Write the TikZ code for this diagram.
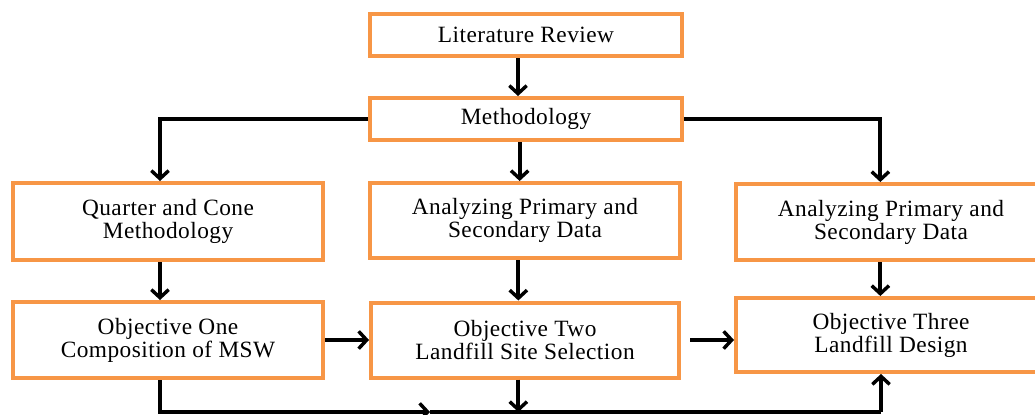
\documentclass[tikz,border=0pt]{standalone}
\usepackage{fontspec}
\setmainfont{Liberation Serif}[LetterSpace=2]
\usetikzlibrary{arrows.meta}

\definecolor{boxorange}{RGB}{247,150,70}

\tikzset{every picture/.style={line width=0.75pt}}

\begin{document}
\begin{tikzpicture}[x=0.75pt,y=0.75pt,yscale=-1,xscale=1,
  stagebox/.style={draw=boxorange, line width=3pt, fill=white, align=center,
    inner sep=0.75pt, minimum width=232.5pt, font=\fontsize{17.5}{17.3}\selectfont},
  conn/.style={line width=3pt, -{Straight Barb[length=6pt,width=13pt,line width=2.6pt]}},
  plain/.style={line width=3pt}]
%set diagram size
\useasboundingbox (0,0) rectangle (1035,414);
\clip (0,0) rectangle (1035,414);

% Text Nodes
\node [stagebox, minimum width=234pt, minimum height=31.5pt] (lit) at (526,35) {Literature Review};
\node [stagebox, minimum width=234pt, minimum height=31.5pt] (meth) at (526,119) {Methodology};
\node [stagebox, minimum height=57.75pt] (qcm) at (168,221.5) {Quarter and Cone\\Methodology};
\node [stagebox, minimum height=56.25pt] (apd) at (525,220.5) {Analyzing Primary and\\Secondary Data};
\node [stagebox, minimum height=57pt] (apdr) at (891,222) {Analyzing Primary and\\Secondary Data};
\node [stagebox, minimum height=57pt] (obja) at (168,340) {Objective One\\Composition of MSW};
\node [stagebox, minimum width=231pt, minimum height=56.25pt] (objb) at (525,340) {Objective Two\\Landfill Site Selection};
\node [stagebox, minimum height=55.5pt] (objc) at (891,335) {Objective Three\\Landfill Design};

%Straight Lines
\draw [conn] ([xshift=-6pt]lit.south) -- ([xshift=-6pt]meth.north);
\draw [conn] (meth.west) -| ([xshift=-6pt]qcm.north);
\draw [conn] ([xshift=-4pt]apd.north |- meth.south) -- ([xshift=-4pt]apd.north);
\draw [conn] (meth.east) -| ([xshift=-8pt]apdr.north);

\draw [conn] ([xshift=-6pt]qcm.south) -- ([xshift=-6pt]obja.north);
\draw [conn] ([xshift=-5pt]apd.south) -- ([xshift=-5pt]objb.north);
\draw [conn] ([xshift=-8pt]apdr.south) -- ([xshift=-8pt]objc.north);

\draw [conn] (obja.east) -- (objb.west);
\draw [conn] ([xshift=7pt]objb.east) -- (objb.east -| objc.west);

% bottom return line
\coordinate (dl) at (160,412);
\coordinate (dm) at (430,412);
\coordinate (dr) at (881,412);
\draw [conn] ([xshift=-6pt]obja.south) -- (dl) -- (dm);
\draw [plain] (dm) -- (dr);
\draw [conn] (dr) -- ([xshift=-7.5pt]objc.south);
\draw [conn] ([xshift=-5pt]objb.south) -- ([xshift=-5pt]objb.south |- dm);

\end{tikzpicture}
\end{document}
